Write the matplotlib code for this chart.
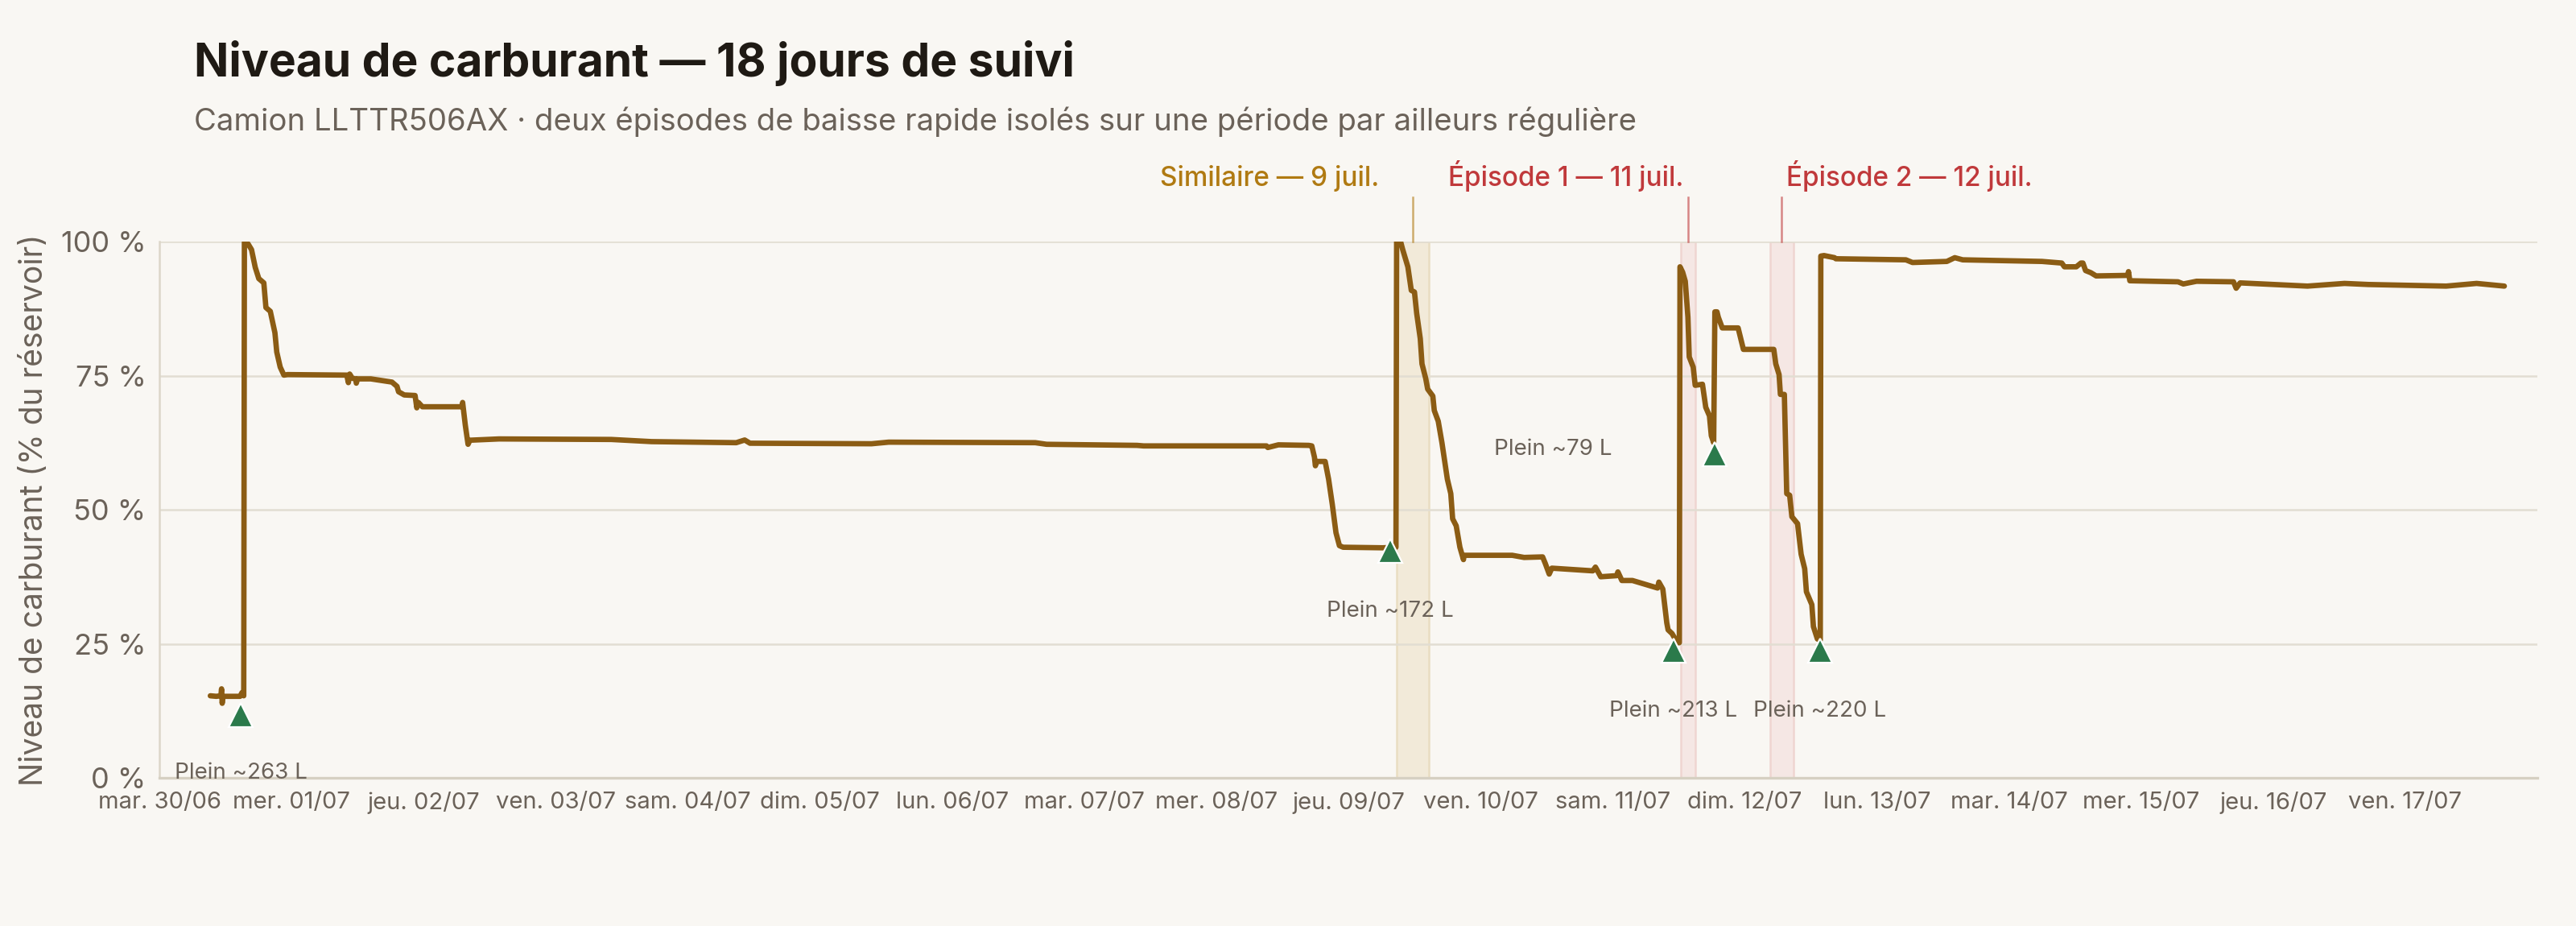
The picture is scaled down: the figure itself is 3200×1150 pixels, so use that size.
import matplotlib.pyplot as plt
import matplotlib.transforms as mtransforms

# --- données (jours depuis mar. 30/06 00:00, % du réservoir) ---
jours = [0.385, 0.43, 0.465, 0.47, 0.475, 0.48, 0.61, 0.625, 0.638,
         0.643, 0.67, 0.697, 0.725, 0.752, 0.79, 0.806, 0.839, 0.874, 0.888, 0.914, 0.942, 0.97,
         1.418, 1.43, 1.44, 1.46, 1.486, 1.49, 1.50, 1.60, 1.73, 1.76, 1.798, 1.81, 1.853,
         1.935, 1.948, 1.96, 1.99, 2.288, 2.295, 2.315, 2.336, 2.35, 2.57, 3.42, 3.725,
         4.366, 4.43, 4.47, 5.39, 5.52, 6.63, 6.715, 7.40, 7.45, 8.38, 8.39, 8.47, 8.70,
         8.723, 8.743, 8.75, 8.76, 8.824, 8.85, 8.878, 8.906, 8.932, 8.96, 9.259, 9.36,
         9.365, 9.395, 9.41, 9.45, 9.476, 9.50, 9.517, 9.544, 9.557, 9.585, 9.60, 9.639,
         9.65, 9.68, 9.708, 9.749, 9.775, 9.789, 9.816, 9.844, 9.871, 9.875, 10.03, 10.24,
         10.33, 10.47, 10.49, 10.52, 10.54, 10.66, 10.85, 10.87, 10.91, 11.03, 11.04, 11.07,
         11.15, 11.34, 11.35, 11.38, 11.41, 11.42, 11.45, 11.49, 11.505,
         11.51, 11.53, 11.55, 11.57, 11.58, 11.61, 11.625, 11.68, 11.705, 11.733, 11.747, 11.765,
         11.774, 11.79, 11.80, 11.83, 11.95, 11.99, 12.22, 12.235, 12.26, 12.27, 12.30,
         12.318, 12.34, 12.357, 12.40, 12.427, 12.454, 12.467, 12.508, 12.52, 12.55, 12.572,
         12.576, 12.60, 12.68, 12.69, 13.22, 13.27, 13.53, 13.59, 13.65, 14.25, 14.40, 14.42,
         14.51, 14.545, 14.56, 14.58, 14.62, 14.66, 14.90, 14.905, 14.915, 15.28, 15.32,
         15.42, 15.70, 15.72, 15.75, 16.26, 16.54, 16.72, 17.31, 17.54, 17.75]
niveau = [15.3, 15.2, 15.3, 16.6, 13.9, 15.2, 15.2, 15.9, 15.3,
          99.9, 99.6, 98.5, 95.2, 93.1, 92.3, 87.7, 87.0, 83.0, 79.4, 76.6, 75.1, 75.2,
          75.1, 73.7, 75.3, 74.5, 74.4, 73.6, 74.4, 74.4, 73.9, 73.8, 73.0, 72.0, 71.4,
          71.3, 69.0, 70.0, 69.2, 69.2, 70.0, 65.8, 62.2, 62.96, 63.2, 63.1, 62.7,
          62.5, 63.0, 62.4, 62.3, 62.6, 62.5, 62.2, 62.0, 61.9, 61.9, 61.6, 62.1, 62.0,
          61.9, 59.8, 58.2, 59.0, 59.0, 55.7, 51.0, 45.7, 43.3, 43.0, 42.9, 43.0,
          100.0, 100.0, 98.6, 95.3, 90.9, 90.6, 86.6, 81.9, 77.2, 74.5, 72.5, 71.2,
          68.5, 66.5, 62.5, 55.7, 53.0, 48.3, 47.0, 43.0, 40.7, 41.5, 41.5, 41.5,
          41.1, 41.2, 40.0, 38.0, 39.1, 38.9, 38.6, 39.3, 37.5, 37.7, 38.4, 36.8,
          36.8, 35.4, 36.5, 35.2, 28.9, 27.6, 26.9, 25.2, 25.2,
          95.3, 94.3, 92.6, 85.9, 78.5, 76.6, 73.2, 73.4, 69.1, 67.5, 63.8, 62.5,
          86.9, 86.9, 85.9, 83.9, 83.9, 79.9, 79.9, 77.2, 75.2, 71.5, 71.5,
          53.0, 52.7, 48.7, 47.4, 41.7, 39.0, 34.7, 32.3, 28.2, 25.9, 25.7,
          97.3, 97.4, 97.0, 96.8, 96.6, 96.1, 96.3, 97.0, 96.6, 96.3, 96.0, 95.3,
          95.3, 96.0, 96.0, 94.6, 94.2, 93.6, 93.7, 94.4, 92.7, 92.5, 92.1,
          92.6, 92.5, 91.3, 92.3, 91.7, 92.2, 92.0, 91.7, 92.2, 91.7]

# pleins détectés
plein_x = [0.615, 9.318, 11.46, 11.77, 12.57]
plein_y = [11.7, 42.3, 23.7, 60.4, 23.7]
plein_txt = ['Plein ~263 L', 'Plein ~172 L', 'Plein ~213 L', 'Plein ~79 L', 'Plein ~220 L']

# épisodes de baisse rapide
ep_debut = [9.367, 11.517, 12.19]
ep_fin = [9.61, 11.626, 12.37]
ep_ligne = [9.488, 11.571, 12.28]
ep_txt = ['Similaire — 9 juil.', 'Épisode 1 — 11 juil.', 'Épisode 2 — 12 juil.']

jours_lbl = ['mar. 30/06', 'mer. 01/07', 'jeu. 02/07', 'ven. 03/07', 'sam. 04/07',
             'dim. 05/07', 'lun. 06/07', 'mar. 07/07', 'mer. 08/07', 'jeu. 09/07',
             'ven. 10/07', 'sam. 11/07', 'dim. 12/07', 'lun. 13/07', 'mar. 14/07',
             'mer. 15/07', 'jeu. 16/07', 'ven. 17/07']

# couleurs
fond = '#f9f7f3'
brun = '#8b5c14'
vert = '#2b7a4b'
or_ = '#b07a12'
rouge = '#c0393b'
gris = '#6b6259'
grille = '#e2ddd2'

plt.rcParams['font.family'] = ['Inter', 'DejaVu Sans']

fig = plt.figure(figsize=(16, 5.75), dpi=200, facecolor=fond)
ax = fig.add_axes([0.0619, 0.16, 0.9231, 0.5791])
ax.set_facecolor(fond)

# bandes des épisodes
span_style = [(or_, '#f2ead9', '#e9ddc2'), (rouge, '#f5e7e4', '#efd5d1'), (rouge, '#f5e7e4', '#efd5d1')]
blend = mtransforms.blended_transform_factory(ax.transData, ax.transAxes)
for i in range(3):
    c, fc, ec = span_style[i]
    ax.axvspan(ep_debut[i], ep_fin[i], facecolor=fc, edgecolor=ec, lw=0.9, zorder=0.5)
    ax.plot([ep_ligne[i], ep_ligne[i]], [1.0, 1.083], transform=blend, clip_on=False,
            color=c, alpha=0.6, lw=0.9)

ax.grid(axis='y', color=grille, lw=0.9)
ax.set_axisbelow(True)

ax.plot(jours, niveau, color=brun, lw=2.4, solid_joinstyle='round', solid_capstyle='round', zorder=3)
ax.plot(plein_x, plein_y, ls='none', marker='^', ms=10.5, mfc=vert, mec='white', mew=0.8, zorder=4)

offsets = [(0, -26), (0, -27), (0, -27), (-72, 2), (0, -27)]
for x, y, t, off in zip(plein_x, plein_y, plein_txt, offsets):
    ax.annotate(t, (x, y), xytext=off, textcoords='offset points', ha='center', va='center',
                fontsize=10, color=gris, zorder=5)

# étiquettes des épisodes au-dessus du graphique
lbl_blend = mtransforms.blended_transform_factory(ax.transData, fig.transFigure)
ep_off = [-15, -2, 2]
ep_ha = ['right', 'right', 'left']
ep_col = [or_, rouge, rouge]
for i in range(3):
    tr = lbl_blend + mtransforms.ScaledTranslation(ep_off[i] / 72, 0, fig.dpi_scale_trans)
    ax.text(ep_ligne[i], 0.799, ep_txt[i], transform=tr, ha=ep_ha[i], va='baseline',
            fontsize=12, fontweight='medium', color=ep_col[i])

ax.set_xlim(0, 18)
ax.set_ylim(0, 100)
ax.set_xticks(range(len(jours_lbl)))
ax.set_xticklabels(jours_lbl)
ax.set_yticks([0, 25, 50, 75, 100])
ax.set_yticklabels(['0 %', '25 %', '50 %', '75 %', '100 %'])
ax.tick_params(axis='x', length=0, pad=6, labelsize=10.5, labelcolor=gris)
ax.tick_params(axis='y', length=0, pad=6, labelsize=13, labelcolor=gris)

for s in ['top', 'right']:
    ax.spines[s].set_visible(False)
ax.spines['left'].set_color('#dcd6c9')
ax.spines['left'].set_linewidth(0.9)
ax.spines['bottom'].set_color('#d6d0c2')
ax.spines['bottom'].set_linewidth(1.2)

ax.set_ylabel('Niveau de carburant (% du réservoir)', fontsize=14, color=gris)
ax.yaxis.set_label_coords(-0.0463, 0.5)

fig.text(0.0753, 0.9174, 'Niveau de carburant — 18 jours de suivi', fontsize=20.5,
         fontweight='bold', color='#1f1a14', va='baseline')
fig.text(0.0753, 0.859, 'Camion LLTTR506AX · deux épisodes de baisse rapide isolés sur une période par ailleurs régulière',
         fontsize=13.8, color=gris, va='baseline')

fig.savefig('out.png', dpi=200, facecolor=fond)
